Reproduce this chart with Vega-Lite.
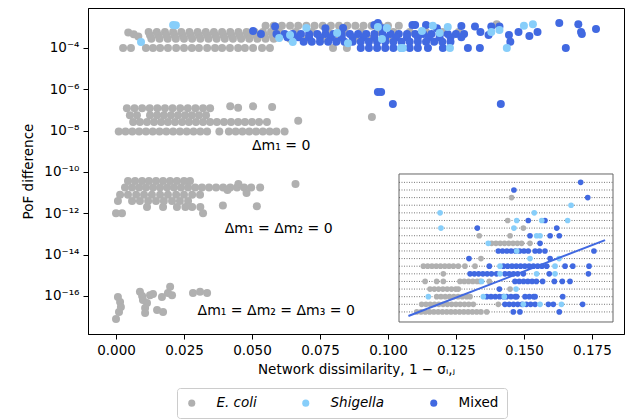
{
"$schema": "https://vega.github.io/schema/vega-lite/v6.json",
"width": 536, "height": 326,
"autosize": {"type": "none"},
"padding": {"left": 88, "top": 8, "right": 1, "bottom": 85},
"config": {"font": "DejaVu Sans", "view": {"stroke": "black", "strokeWidth": 1},
 "axis": {"grid": false, "domainColor": "black", "tickColor": "black", "labelColor": "black", "titleColor": "black", "labelFontSize": 13.5, "titleFontSize": 13.5, "titleFontWeight": "normal", "tickSize": 5, "labelPadding": 4}},
"datasets": {
"main": [
{"x":0.0045,"y":5.6e-4,"g":"E. coli"},{"x":0.0065,"y":4.6e-4,"g":"E. coli"},{"x":0.0082,"y":3.6e-4,"g":"E. coli"},{"x":0.0026,"y":1e-4,"g":"E. coli"},{"x":0.0055,"y":1e-4,"g":"E. coli"},
{"x":0.012,"y":6e-4,"g":"E. coli"},{"x":0.015,"y":6e-4,"g":"E. coli"},{"x":0.018,"y":6e-4,"g":"E. coli"},{"x":0.021,"y":6e-4,"g":"E. coli"},{"x":0.024,"y":6e-4,"g":"E. coli"},{"x":0.027,"y":6e-4,"g":"E. coli"},{"x":0.030,"y":6e-4,"g":"E. coli"},{"x":0.033,"y":6e-4,"g":"E. coli"},{"x":0.036,"y":6e-4,"g":"E. coli"},{"x":0.039,"y":6e-4,"g":"E. coli"},{"x":0.042,"y":6e-4,"g":"E. coli"},{"x":0.045,"y":6e-4,"g":"E. coli"},{"x":0.048,"y":6e-4,"g":"E. coli"},{"x":0.051,"y":6e-4,"g":"E. coli"},{"x":0.054,"y":6e-4,"g":"E. coli"},{"x":0.057,"y":6e-4,"g":"E. coli"},{"x":0.060,"y":6e-4,"g":"E. coli"},{"x":0.066,"y":6e-4,"g":"E. coli"},{"x":0.072,"y":6e-4,"g":"E. coli"},{"x":0.078,"y":6e-4,"g":"E. coli"},{"x":0.084,"y":6e-4,"g":"E. coli"},{"x":0.090,"y":6e-4,"g":"E. coli"},{"x":0.096,"y":6e-4,"g":"E. coli"},{"x":0.102,"y":6e-4,"g":"E. coli"},{"x":0.108,"y":6e-4,"g":"E. coli"},{"x":0.114,"y":6e-4,"g":"E. coli"},{"x":0.120,"y":6e-4,"g":"E. coli"},{"x":0.126,"y":6e-4,"g":"E. coli"},
{"x":0.0125,"y":4.1e-4,"g":"E. coli"},{"x":0.0155,"y":4.1e-4,"g":"E. coli"},{"x":0.0185,"y":4.1e-4,"g":"E. coli"},{"x":0.0215,"y":4.1e-4,"g":"E. coli"},{"x":0.0245,"y":4.1e-4,"g":"E. coli"},{"x":0.0275,"y":4.1e-4,"g":"E. coli"},{"x":0.0305,"y":4.1e-4,"g":"E. coli"},{"x":0.0335,"y":4.1e-4,"g":"E. coli"},{"x":0.0365,"y":4.1e-4,"g":"E. coli"},{"x":0.0395,"y":4.1e-4,"g":"E. coli"},{"x":0.0425,"y":4.1e-4,"g":"E. coli"},{"x":0.0455,"y":4.1e-4,"g":"E. coli"},{"x":0.0485,"y":4.1e-4,"g":"E. coli"},{"x":0.0515,"y":4.1e-4,"g":"E. coli"},{"x":0.0545,"y":4.1e-4,"g":"E. coli"},{"x":0.0575,"y":4.1e-4,"g":"E. coli"},
{"x":0.013,"y":2.8e-4,"g":"E. coli"},{"x":0.016,"y":2.8e-4,"g":"E. coli"},{"x":0.019,"y":2.8e-4,"g":"E. coli"},{"x":0.022,"y":2.8e-4,"g":"E. coli"},{"x":0.025,"y":2.8e-4,"g":"E. coli"},{"x":0.028,"y":2.8e-4,"g":"E. coli"},{"x":0.031,"y":2.8e-4,"g":"E. coli"},{"x":0.034,"y":2.8e-4,"g":"E. coli"},{"x":0.037,"y":2.8e-4,"g":"E. coli"},{"x":0.040,"y":2.8e-4,"g":"E. coli"},{"x":0.043,"y":2.8e-4,"g":"E. coli"},{"x":0.046,"y":2.8e-4,"g":"E. coli"},{"x":0.049,"y":2.8e-4,"g":"E. coli"},{"x":0.052,"y":2.8e-4,"g":"E. coli"},{"x":0.055,"y":2.8e-4,"g":"E. coli"},{"x":0.058,"y":2.8e-4,"g":"E. coli"},{"x":0.064,"y":2.8e-4,"g":"E. coli"},{"x":0.070,"y":2.8e-4,"g":"E. coli"},{"x":0.076,"y":2.8e-4,"g":"E. coli"},{"x":0.082,"y":2.8e-4,"g":"E. coli"},{"x":0.088,"y":2.8e-4,"g":"E. coli"},{"x":0.094,"y":2.8e-4,"g":"E. coli"},{"x":0.100,"y":2.8e-4,"g":"E. coli"},
{"x":0.011,"y":1e-4,"g":"E. coli"},{"x":0.0136,"y":1e-4,"g":"E. coli"},{"x":0.0162,"y":1e-4,"g":"E. coli"},{"x":0.0191,"y":1e-4,"g":"E. coli"},{"x":0.0221,"y":1e-4,"g":"E. coli"},{"x":0.025,"y":1e-4,"g":"E. coli"},{"x":0.0279,"y":1e-4,"g":"E. coli"},{"x":0.0305,"y":1e-4,"g":"E. coli"},{"x":0.0335,"y":1e-4,"g":"E. coli"},{"x":0.0364,"y":1e-4,"g":"E. coli"},{"x":0.039,"y":1e-4,"g":"E. coli"},{"x":0.0419,"y":1e-4,"g":"E. coli"},{"x":0.0449,"y":1e-4,"g":"E. coli"},{"x":0.0474,"y":1e-4,"g":"E. coli"},{"x":0.0504,"y":1e-4,"g":"E. coli"},{"x":0.0537,"y":1e-4,"g":"E. coli"},{"x":0.0566,"y":1e-4,"g":"E. coli"},{"x":0.0798,"y":1e-4,"g":"E. coli"},{"x":0.0849,"y":1e-4,"g":"E. coli"},
{"x":0.055,"y":1.2e-3,"g":"E. coli"},{"x":0.058,"y":1.2e-3,"g":"E. coli"},{"x":0.061,"y":1.2e-3,"g":"E. coli"},{"x":0.064,"y":1.2e-3,"g":"E. coli"},{"x":0.067,"y":1.2e-3,"g":"E. coli"},{"x":0.070,"y":1.2e-3,"g":"E. coli"},{"x":0.073,"y":1.2e-3,"g":"E. coli"},{"x":0.076,"y":1.2e-3,"g":"E. coli"},{"x":0.079,"y":1.2e-3,"g":"E. coli"},{"x":0.082,"y":1.2e-3,"g":"E. coli"},{"x":0.085,"y":1.2e-3,"g":"E. coli"},{"x":0.088,"y":1.2e-3,"g":"E. coli"},{"x":0.091,"y":1.2e-3,"g":"E. coli"},{"x":0.094,"y":1.2e-3,"g":"E. coli"},{"x":0.097,"y":1.2e-3,"g":"E. coli"},{"x":0.100,"y":1.2e-3,"g":"E. coli"},{"x":0.104,"y":1.2e-3,"g":"E. coli"},{"x":0.140,"y":1.4e-3,"g":"E. coli"},
{"x":0.001,"y":9e-9,"g":"E. coli"},{"x":0.0035,"y":9e-9,"g":"E. coli"},{"x":0.006,"y":9e-9,"g":"E. coli"},{"x":0.0085,"y":9e-9,"g":"E. coli"},{"x":0.011,"y":9e-9,"g":"E. coli"},{"x":0.0135,"y":9e-9,"g":"E. coli"},{"x":0.016,"y":9e-9,"g":"E. coli"},{"x":0.0185,"y":9e-9,"g":"E. coli"},{"x":0.021,"y":9e-9,"g":"E. coli"},{"x":0.0235,"y":9e-9,"g":"E. coli"},{"x":0.026,"y":9e-9,"g":"E. coli"},{"x":0.0285,"y":9e-9,"g":"E. coli"},{"x":0.031,"y":9e-9,"g":"E. coli"},{"x":0.0335,"y":9e-9,"g":"E. coli"},{"x":0.038,"y":9e-9,"g":"E. coli"},{"x":0.0415,"y":9e-9,"g":"E. coli"},{"x":0.044,"y":9e-9,"g":"E. coli"},{"x":0.0465,"y":9e-9,"g":"E. coli"},{"x":0.049,"y":9e-9,"g":"E. coli"},{"x":0.0515,"y":9e-9,"g":"E. coli"},{"x":0.054,"y":9e-9,"g":"E. coli"},{"x":0.0565,"y":9e-9,"g":"E. coli"},{"x":0.059,"y":9e-9,"g":"E. coli"},{"x":0.062,"y":9e-9,"g":"E. coli"},
{"x":0.0051,"y":5.5e-8,"g":"E. coli"},{"x":0.0077,"y":5.5e-8,"g":"E. coli"},{"x":0.0125,"y":5.5e-8,"g":"E. coli"},{"x":0.0151,"y":5.5e-8,"g":"E. coli"},{"x":0.0176,"y":5.5e-8,"g":"E. coli"},{"x":0.0202,"y":5.5e-8,"g":"E. coli"},{"x":0.0228,"y":5.5e-8,"g":"E. coli"},{"x":0.0254,"y":5.5e-8,"g":"E. coli"},{"x":0.0279,"y":5.5e-8,"g":"E. coli"},{"x":0.0305,"y":5.5e-8,"g":"E. coli"},{"x":0.0331,"y":5.5e-8,"g":"E. coli"},
{"x":0.0063,"y":2.6e-8,"g":"E. coli"},{"x":0.0088,"y":2.6e-8,"g":"E. coli"},{"x":0.0114,"y":2.6e-8,"g":"E. coli"},{"x":0.014,"y":2.6e-8,"g":"E. coli"},{"x":0.0166,"y":2.6e-8,"g":"E. coli"},{"x":0.0191,"y":2.6e-8,"g":"E. coli"},{"x":0.0217,"y":2.6e-8,"g":"E. coli"},{"x":0.0243,"y":2.6e-8,"g":"E. coli"},{"x":0.0268,"y":2.6e-8,"g":"E. coli"},{"x":0.0294,"y":2.6e-8,"g":"E. coli"},{"x":0.032,"y":2.6e-8,"g":"E. coli"},{"x":0.0346,"y":2.6e-8,"g":"E. coli"},{"x":0.0371,"y":2.6e-8,"g":"E. coli"},{"x":0.0397,"y":2.6e-8,"g":"E. coli"},{"x":0.0423,"y":2.6e-8,"g":"E. coli"},{"x":0.0449,"y":2.6e-8,"g":"E. coli"},{"x":0.0474,"y":2.6e-8,"g":"E. coli"},{"x":0.05,"y":2.6e-8,"g":"E. coli"},{"x":0.0526,"y":2.6e-8,"g":"E. coli"},{"x":0.0555,"y":2.6e-8,"g":"E. coli"},
{"x":0.004,"y":1.2e-7,"g":"E. coli"},{"x":0.0068,"y":1.2e-7,"g":"E. coli"},{"x":0.0096,"y":1.2e-7,"g":"E. coli"},{"x":0.0124,"y":1.2e-7,"g":"E. coli"},{"x":0.0152,"y":1.2e-7,"g":"E. coli"},{"x":0.018,"y":1.2e-7,"g":"E. coli"},{"x":0.0208,"y":1.2e-7,"g":"E. coli"},{"x":0.0236,"y":1.2e-7,"g":"E. coli"},{"x":0.0264,"y":1.2e-7,"g":"E. coli"},{"x":0.0292,"y":1.2e-7,"g":"E. coli"},{"x":0.032,"y":1.2e-7,"g":"E. coli"},{"x":0.0346,"y":1.2e-7,"g":"E. coli"},{"x":0.042,"y":1.5e-7,"g":"E. coli"},{"x":0.0449,"y":1.3e-7,"g":"E. coli"},{"x":0.0504,"y":1.5e-7,"g":"E. coli"},{"x":0.0574,"y":1.4e-7,"g":"E. coli"},
{"x":0.067,"y":3e-8,"g":"E. coli"},{"x":0.0941,"y":4.6e-8,"g":"E. coli"},
{"x":0.0044,"y":3.7e-11,"g":"E. coli"},{"x":0.007,"y":3.7e-11,"g":"E. coli"},{"x":0.0096,"y":3.7e-11,"g":"E. coli"},{"x":0.0121,"y":3.7e-11,"g":"E. coli"},{"x":0.0147,"y":3.7e-11,"g":"E. coli"},{"x":0.0173,"y":3.7e-11,"g":"E. coli"},{"x":0.0199,"y":3.7e-11,"g":"E. coli"},{"x":0.0224,"y":3.7e-11,"g":"E. coli"},{"x":0.025,"y":3.7e-11,"g":"E. coli"},{"x":0.0272,"y":3.7e-11,"g":"E. coli"},
{"x":0.0033,"y":1.8e-11,"g":"E. coli"},{"x":0.0059,"y":1.8e-11,"g":"E. coli"},{"x":0.0085,"y":1.8e-11,"g":"E. coli"},{"x":0.011,"y":1.8e-11,"g":"E. coli"},{"x":0.0136,"y":1.8e-11,"g":"E. coli"},{"x":0.0162,"y":1.8e-11,"g":"E. coli"},{"x":0.0188,"y":1.8e-11,"g":"E. coli"},{"x":0.0213,"y":1.8e-11,"g":"E. coli"},{"x":0.0239,"y":1.8e-11,"g":"E. coli"},{"x":0.0265,"y":1.8e-11,"g":"E. coli"},{"x":0.0291,"y":1.8e-11,"g":"E. coli"},{"x":0.0316,"y":1.8e-11,"g":"E. coli"},{"x":0.0342,"y":1.8e-11,"g":"E. coli"},{"x":0.0368,"y":1.8e-11,"g":"E. coli"},{"x":0.0394,"y":1.8e-11,"g":"E. coli"},{"x":0.042,"y":1.8e-11,"g":"E. coli"},{"x":0.0445,"y":1.8e-11,"g":"E. coli"},{"x":0.0471,"y":1.8e-11,"g":"E. coli"},{"x":0.0497,"y":1.8e-11,"g":"E. coli"},{"x":0.053,"y":1.8e-11,"g":"E. coli"},
{"x":0.0015,"y":8e-12,"g":"E. coli"},{"x":0.0044,"y":8e-12,"g":"E. coli"},{"x":0.0074,"y":8e-12,"g":"E. coli"},{"x":0.0103,"y":8e-12,"g":"E. coli"},{"x":0.0132,"y":8e-12,"g":"E. coli"},{"x":0.0162,"y":8e-12,"g":"E. coli"},{"x":0.0191,"y":8e-12,"g":"E. coli"},{"x":0.0221,"y":8e-12,"g":"E. coli"},{"x":0.025,"y":8e-12,"g":"E. coli"},{"x":0.028,"y":8e-12,"g":"E. coli"},{"x":0.0309,"y":8e-12,"g":"E. coli"},
{"x":0.0007,"y":4e-12,"g":"E. coli"},{"x":0.0059,"y":4e-12,"g":"E. coli"},{"x":0.0088,"y":4e-12,"g":"E. coli"},{"x":0.0118,"y":4e-12,"g":"E. coli"},{"x":0.0147,"y":4e-12,"g":"E. coli"},{"x":0.0176,"y":4e-12,"g":"E. coli"},{"x":0.0206,"y":4e-12,"g":"E. coli"},{"x":0.0235,"y":4e-12,"g":"E. coli"},{"x":0.0265,"y":4e-12,"g":"E. coli"},
{"x":0.0114,"y":2e-12,"g":"E. coli"},{"x":0.0173,"y":2e-12,"g":"E. coli"},{"x":0.0224,"y":2e-12,"g":"E. coli"},{"x":0.0255,"y":2e-12,"g":"E. coli"},{"x":0.028,"y":2e-12,"g":"E. coli"},{"x":0.031,"y":2e-12,"g":"E. coli"},{"x":0.0,"y":1e-12,"g":"E. coli"},{"x":0.0022,"y":1e-12,"g":"E. coli"},{"x":0.032,"y":1e-12,"g":"E. coli"},{"x":0.0393,"y":2.4e-12,"g":"E. coli"},{"x":0.0518,"y":2.2e-12,"g":"E. coli"},
{"x":0.048,"y":9.5e-12,"g":"E. coli"},{"x":0.045,"y":2.6e-11,"g":"E. coli"},{"x":0.041,"y":1.35e-11,"g":"E. coli"},{"x":0.066,"y":2.6e-11,"g":"E. coli"},
{"x":0.0007,"y":8.9e-17,"g":"E. coli"},{"x":0.0015,"y":5.1e-17,"g":"E. coli"},{"x":0.0018,"y":2.9e-17,"g":"E. coli"},{"x":0.0011,"y":1.7e-17,"g":"E. coli"},{"x":0.0,"y":7.8e-18,"g":"E. coli"},{"x":0.0088,"y":1.6e-16,"g":"E. coli"},{"x":0.0096,"y":1e-16,"g":"E. coli"},{"x":0.0099,"y":6.4e-17,"g":"E. coli"},{"x":0.0114,"y":4.6e-17,"g":"E. coli"},{"x":0.0125,"y":1.1e-16,"g":"E. coli"},{"x":0.0136,"y":1.25e-16,"g":"E. coli"},{"x":0.0107,"y":2.6e-17,"g":"E. coli"},{"x":0.0107,"y":1.5e-17,"g":"E. coli"},{"x":0.0151,"y":2.1e-17,"g":"E. coli"},{"x":0.0173,"y":1.7e-17,"g":"E. coli"},{"x":0.0169,"y":8.9e-17,"g":"E. coli"},{"x":0.0191,"y":1.4e-16,"g":"E. coli"},{"x":0.0199,"y":2.8e-16,"g":"E. coli"},{"x":0.0206,"y":1.1e-16,"g":"E. coli"},{"x":0.0283,"y":1.4e-16,"g":"E. coli"},{"x":0.0309,"y":1.6e-16,"g":"E. coli"},{"x":0.0335,"y":1.4e-16,"g":"E. coli"},
{"x":0.059,"y":4.8e-4,"g":"Mixed"},{"x":0.062,"y":4.8e-4,"g":"Mixed"},{"x":0.065,"y":4.8e-4,"g":"Mixed"},{"x":0.068,"y":4.8e-4,"g":"Mixed"},{"x":0.071,"y":4.8e-4,"g":"Mixed"},{"x":0.074,"y":4.8e-4,"g":"Mixed"},{"x":0.077,"y":4.8e-4,"g":"Mixed"},{"x":0.080,"y":4.8e-4,"g":"Mixed"},{"x":0.083,"y":4.8e-4,"g":"Mixed"},{"x":0.086,"y":4.8e-4,"g":"Mixed"},{"x":0.089,"y":4.8e-4,"g":"Mixed"},{"x":0.092,"y":4.8e-4,"g":"Mixed"},{"x":0.095,"y":4.8e-4,"g":"Mixed"},{"x":0.098,"y":4.8e-4,"g":"Mixed"},{"x":0.101,"y":4.8e-4,"g":"Mixed"},{"x":0.104,"y":4.8e-4,"g":"Mixed"},{"x":0.107,"y":4.8e-4,"g":"Mixed"},{"x":0.110,"y":4.8e-4,"g":"Mixed"},{"x":0.113,"y":4.8e-4,"g":"Mixed"},{"x":0.116,"y":4.8e-4,"g":"Mixed"},{"x":0.119,"y":4.8e-4,"g":"Mixed"},{"x":0.122,"y":4.8e-4,"g":"Mixed"},{"x":0.125,"y":4.8e-4,"g":"Mixed"},{"x":0.128,"y":4.8e-4,"g":"Mixed"},
{"x":0.063,"y":3.3e-4,"g":"Mixed"},{"x":0.067,"y":3.3e-4,"g":"Mixed"},{"x":0.071,"y":3.3e-4,"g":"Mixed"},{"x":0.075,"y":3.3e-4,"g":"Mixed"},{"x":0.079,"y":3.3e-4,"g":"Mixed"},{"x":0.083,"y":3.3e-4,"g":"Mixed"},{"x":0.087,"y":3.3e-4,"g":"Mixed"},{"x":0.091,"y":3.3e-4,"g":"Mixed"},{"x":0.095,"y":3.3e-4,"g":"Mixed"},{"x":0.099,"y":3.3e-4,"g":"Mixed"},{"x":0.103,"y":3.3e-4,"g":"Mixed"},{"x":0.107,"y":3.3e-4,"g":"Mixed"},{"x":0.111,"y":3.3e-4,"g":"Mixed"},{"x":0.115,"y":3.3e-4,"g":"Mixed"},{"x":0.119,"y":3.3e-4,"g":"Mixed"},{"x":0.123,"y":3.3e-4,"g":"Mixed"},{"x":0.127,"y":3.3e-4,"g":"Mixed"},
{"x":0.069,"y":2e-4,"g":"Mixed"},{"x":0.072,"y":2e-4,"g":"Mixed"},{"x":0.075,"y":2e-4,"g":"Mixed"},{"x":0.078,"y":2e-4,"g":"Mixed"},{"x":0.081,"y":2e-4,"g":"Mixed"},{"x":0.084,"y":2e-4,"g":"Mixed"},{"x":0.087,"y":2e-4,"g":"Mixed"},{"x":0.090,"y":2e-4,"g":"Mixed"},{"x":0.093,"y":2e-4,"g":"Mixed"},{"x":0.096,"y":2e-4,"g":"Mixed"},{"x":0.099,"y":2e-4,"g":"Mixed"},{"x":0.102,"y":2e-4,"g":"Mixed"},{"x":0.105,"y":2e-4,"g":"Mixed"},{"x":0.108,"y":2e-4,"g":"Mixed"},{"x":0.111,"y":2e-4,"g":"Mixed"},{"x":0.114,"y":2e-4,"g":"Mixed"},{"x":0.117,"y":2e-4,"g":"Mixed"},{"x":0.120,"y":2e-4,"g":"Mixed"},{"x":0.123,"y":2e-4,"g":"Mixed"},
{"x":0.090,"y":1e-4,"g":"Mixed"},{"x":0.093,"y":1e-4,"g":"Mixed"},{"x":0.096,"y":1e-4,"g":"Mixed"},{"x":0.099,"y":1e-4,"g":"Mixed"},{"x":0.102,"y":1e-4,"g":"Mixed"},{"x":0.105,"y":1e-4,"g":"Mixed"},{"x":0.108,"y":1e-4,"g":"Mixed"},{"x":0.111,"y":1e-4,"g":"Mixed"},{"x":0.1147,"y":1e-4,"g":"Mixed"},{"x":0.1202,"y":1e-4,"g":"Mixed"},{"x":0.1294,"y":1e-4,"g":"Mixed"},{"x":0.1338,"y":1e-4,"g":"Mixed"},{"x":0.1654,"y":1e-4,"g":"Mixed"},
{"x":0.0504,"y":6.6e-4,"g":"Mixed"},{"x":0.0533,"y":4.7e-4,"g":"Mixed"},{"x":0.0585,"y":1.1e-3,"g":"Mixed"},{"x":0.077,"y":9e-4,"g":"Mixed"},{"x":0.0835,"y":9.3e-4,"g":"Mixed"},{"x":0.095,"y":1.3e-3,"g":"Mixed"},{"x":0.0963,"y":1.6e-3,"g":"Mixed"},{"x":0.098,"y":9e-4,"g":"Mixed"},{"x":0.109,"y":1.3e-3,"g":"Mixed"},{"x":0.11,"y":1.3e-3,"g":"Mixed"},{"x":0.114,"y":1.3e-3,"g":"Mixed"},{"x":0.118,"y":9e-4,"g":"Mixed"},{"x":0.127,"y":1.15e-3,"g":"Mixed"},{"x":0.132,"y":1.1e-3,"g":"Mixed"},{"x":0.138,"y":1.1e-3,"g":"Mixed"},{"x":0.141,"y":1.1e-3,"g":"Mixed"},{"x":0.134,"y":6e-4,"g":"Mixed"},{"x":0.137,"y":4.3e-4,"g":"Mixed"},{"x":0.1445,"y":4.3e-4,"g":"Mixed"},{"x":0.145,"y":2e-4,"g":"Mixed"},{"x":0.148,"y":6e-4,"g":"Mixed"},{"x":0.152,"y":3.8e-4,"g":"Mixed"},{"x":0.155,"y":6e-4,"g":"Mixed"},{"x":0.163,"y":1.6e-3,"g":"Mixed"},{"x":0.170,"y":1.4e-3,"g":"Mixed"},{"x":0.171,"y":6e-4,"g":"Mixed"},{"x":0.1713,"y":4.8e-4,"g":"Mixed"},{"x":0.1765,"y":8.3e-4,"g":"Mixed"},
{"x":0.0963,"y":7.4e-7,"g":"Mixed"},{"x":0.0975,"y":7.4e-7,"g":"Mixed"},{"x":0.1018,"y":1.95e-7,"g":"Mixed"},{"x":0.1415,"y":1.95e-7,"g":"Mixed"},
{"x":0.021,"y":1.3e-3,"g":"Shigella"},{"x":0.022,"y":1.25e-3,"g":"Shigella"},{"x":0.0092,"y":1.95e-4,"g":"Shigella"},{"x":0.060,"y":3e-4,"g":"Shigella"},{"x":0.065,"y":1.95e-4,"g":"Shigella"},{"x":0.070,"y":9.3e-4,"g":"Shigella"},{"x":0.064,"y":4.3e-4,"g":"Shigella"},{"x":0.0813,"y":5.3e-4,"g":"Shigella"},{"x":0.0853,"y":1.7e-4,"g":"Shigella"},{"x":0.0963,"y":1.05e-3,"g":"Shigella"},{"x":0.0996,"y":9.3e-4,"g":"Shigella"},{"x":0.0978,"y":2.7e-4,"g":"Shigella"},{"x":0.1048,"y":1e-4,"g":"Shigella"},{"x":0.1055,"y":1e-4,"g":"Shigella"},{"x":0.1125,"y":6.6e-4,"g":"Shigella"},{"x":0.1165,"y":1.2e-3,"g":"Shigella"},{"x":0.119,"y":5.3e-4,"g":"Shigella"},{"x":0.122,"y":1.05e-3,"g":"Shigella"},{"x":0.1228,"y":1e-4,"g":"Shigella"},{"x":0.138,"y":6e-4,"g":"Shigella"},{"x":0.141,"y":7.4e-4,"g":"Shigella"},{"x":0.1437,"y":1e-4,"g":"Shigella"},{"x":0.150,"y":1.2e-3,"g":"Shigella"},{"x":0.1533,"y":1.4e-3,"g":"Shigella"}
],
"notes": [
{"x":0.050,"y":1.8e-9,"t":"Δm₁ = 0"},
{"x":0.040,"y":1.74e-13,"t":"Δm₁ = Δm₂ = 0"},
{"x":0.030,"y":1.9e-17,"t":"Δm₁ = Δm₂ = Δm₃ = 0"}
],
"frame": [{"u0":0,"u1":100,"r0":-0.32,"r1":19.1}],
"rows": [
{"r":1,"u0":0,"u1":100},{"r":2,"u0":0,"u1":100},{"r":3,"u0":0,"u1":100},{"r":4,"u0":0,"u1":100},{"r":5,"u0":0,"u1":100},{"r":6,"u0":0,"u1":100},{"r":7,"u0":0,"u1":100},{"r":8,"u0":0,"u1":100},{"r":9,"u0":0,"u1":100},{"r":10,"u0":0,"u1":100},{"r":11,"u0":0,"u1":100},{"r":12,"u0":0,"u1":100},{"r":13,"u0":0,"u1":100},{"r":14,"u0":0,"u1":100},{"r":15,"u0":0,"u1":100},{"r":16,"u0":0,"u1":100},{"r":17,"u0":0,"u1":100},{"r":18,"u0":0,"u1":100}
],
"inset": [
{"u":52.6,"r":16,"g":"E. coli"},{"u":50.8,"r":13,"g":"E. coli"},{"u":58.1,"r":12,"g":"E. coli"},{"u":37.5,"r":11,"g":"E. coli"},{"u":51.9,"r":11,"g":"E. coli"},
{"u":43.3,"r":10,"g":"E. coli"},{"u":45.3,"r":10,"g":"E. coli"},{"u":47.3,"r":10,"g":"E. coli"},{"u":49.3,"r":10,"g":"E. coli"},{"u":51.3,"r":10,"g":"E. coli"},{"u":53.3,"r":10,"g":"E. coli"},{"u":55.3,"r":10,"g":"E. coli"},{"u":57.3,"r":10,"g":"E. coli"},{"u":61.2,"r":10,"g":"E. coli"},
{"u":38.3,"r":8,"g":"E. coli"},
{"u":11.4,"r":7,"g":"E. coli"},{"u":13.4,"r":7,"g":"E. coli"},{"u":15.4,"r":7,"g":"E. coli"},{"u":17.4,"r":7,"g":"E. coli"},{"u":19.4,"r":7,"g":"E. coli"},{"u":21.4,"r":7,"g":"E. coli"},{"u":23.4,"r":7,"g":"E. coli"},{"u":25.4,"r":7,"g":"E. coli"},{"u":27.7,"r":7,"g":"E. coli"},{"u":30.8,"r":7,"g":"E. coli"},{"u":35.5,"r":7,"g":"E. coli"},
{"u":20.7,"r":6,"g":"E. coli"},
{"u":12.2,"r":5,"g":"E. coli"},{"u":17.6,"r":5,"g":"E. coli"},{"u":20.7,"r":5,"g":"E. coli"},{"u":28.5,"r":5,"g":"E. coli"},{"u":30.5,"r":5,"g":"E. coli"},{"u":32.5,"r":5,"g":"E. coli"},{"u":34.5,"r":5,"g":"E. coli"},{"u":36.5,"r":5,"g":"E. coli"},{"u":37.9,"r":5,"g":"E. coli"},{"u":42.2,"r":5,"g":"E. coli"},
{"u":14.5,"r":4,"g":"E. coli"},{"u":16.5,"r":4,"g":"E. coli"},{"u":18.5,"r":4,"g":"E. coli"},{"u":20.5,"r":4,"g":"E. coli"},{"u":22.5,"r":4,"g":"E. coli"},{"u":24.5,"r":4,"g":"E. coli"},{"u":26.5,"r":4,"g":"E. coli"},{"u":27.7,"r":4,"g":"E. coli"},{"u":51.9,"r":4,"g":"E. coli"},
{"u":17.6,"r":3,"g":"E. coli"},{"u":19.6,"r":3,"g":"E. coli"},{"u":21.6,"r":3,"g":"E. coli"},{"u":23.6,"r":3,"g":"E. coli"},{"u":25.6,"r":3,"g":"E. coli"},{"u":27.6,"r":3,"g":"E. coli"},{"u":29.6,"r":3,"g":"E. coli"},{"u":31.6,"r":3,"g":"E. coli"},{"u":33.2,"r":3,"g":"E. coli"},
{"u":10.6,"r":2,"g":"E. coli"},{"u":12.6,"r":2,"g":"E. coli"},{"u":14.6,"r":2,"g":"E. coli"},{"u":16.6,"r":2,"g":"E. coli"},{"u":18.6,"r":2,"g":"E. coli"},{"u":20.6,"r":2,"g":"E. coli"},{"u":22.6,"r":2,"g":"E. coli"},{"u":24.6,"r":2,"g":"E. coli"},{"u":26.6,"r":2,"g":"E. coli"},{"u":28.6,"r":2,"g":"E. coli"},{"u":30.6,"r":2,"g":"E. coli"},{"u":32.6,"r":2,"g":"E. coli"},{"u":34.7,"r":2,"g":"E. coli"},{"u":46.4,"r":2,"g":"E. coli"},
{"u":8.3,"r":1,"g":"E. coli"},{"u":10.3,"r":1,"g":"E. coli"},{"u":12.3,"r":1,"g":"E. coli"},{"u":14.3,"r":1,"g":"E. coli"},{"u":16.3,"r":1,"g":"E. coli"},{"u":18.3,"r":1,"g":"E. coli"},{"u":20.3,"r":1,"g":"E. coli"},{"u":22.3,"r":1,"g":"E. coli"},{"u":24.3,"r":1,"g":"E. coli"},{"u":26.3,"r":1,"g":"E. coli"},{"u":28.3,"r":1,"g":"E. coli"},{"u":30.3,"r":1,"g":"E. coli"},{"u":32.3,"r":1,"g":"E. coli"},{"u":34.3,"r":1,"g":"E. coli"},{"u":36.3,"r":1,"g":"E. coli"},{"u":38.3,"r":1,"g":"E. coli"},{"u":41,"r":1,"g":"E. coli"},
{"u":84.9,"r":18,"g":"Mixed"},{"u":53.7,"r":17,"g":"Mixed"},{"u":88.2,"r":16,"g":"Mixed"},{"u":60.4,"r":13,"g":"Mixed"},{"u":68.2,"r":13,"g":"Mixed"},{"u":36.6,"r":12,"g":"Mixed"},{"u":73.7,"r":12,"g":"Mixed"},{"u":61.2,"r":11,"g":"Mixed"},{"u":70.6,"r":11,"g":"Mixed"},{"u":74.9,"r":11,"g":"Mixed"},{"u":65.9,"r":10,"g":"Mixed"},
{"u":46.4,"r":9,"g":"Mixed"},{"u":48.4,"r":9,"g":"Mixed"},{"u":50.4,"r":9,"g":"Mixed"},{"u":52.4,"r":9,"g":"Mixed"},{"u":54.4,"r":9,"g":"Mixed"},{"u":56.4,"r":9,"g":"Mixed"},{"u":58.4,"r":9,"g":"Mixed"},{"u":60.4,"r":9,"g":"Mixed"},{"u":63.6,"r":9,"g":"Mixed"},{"u":65.6,"r":9,"g":"Mixed"},{"u":68.2,"r":9,"g":"Mixed"},{"u":91.1,"r":9,"g":"Mixed"},
{"u":32.7,"r":8,"g":"Mixed"},{"u":70.6,"r":8,"g":"Mixed"},
{"u":42.2,"r":7,"g":"Mixed"},{"u":48.8,"r":7,"g":"Mixed"},{"u":50.8,"r":7,"g":"Mixed"},{"u":52.8,"r":7,"g":"Mixed"},{"u":54.8,"r":7,"g":"Mixed"},{"u":56.8,"r":7,"g":"Mixed"},{"u":58.8,"r":7,"g":"Mixed"},{"u":60.8,"r":7,"g":"Mixed"},{"u":62.8,"r":7,"g":"Mixed"},{"u":64.8,"r":7,"g":"Mixed"},{"u":66.8,"r":7,"g":"Mixed"},{"u":69,"r":7,"g":"Mixed"},{"u":77.6,"r":7,"g":"Mixed"},{"u":81.2,"r":7,"g":"Mixed"},{"u":88.8,"r":7,"g":"Mixed"},
{"u":33.2,"r":6,"g":"Mixed"},{"u":35.2,"r":6,"g":"Mixed"},{"u":37.2,"r":6,"g":"Mixed"},{"u":39.2,"r":6,"g":"Mixed"},{"u":41.2,"r":6,"g":"Mixed"},{"u":43.2,"r":6,"g":"Mixed"},{"u":45.6,"r":6,"g":"Mixed"},{"u":49.5,"r":6,"g":"Mixed"},{"u":51.5,"r":6,"g":"Mixed"},{"u":53.5,"r":6,"g":"Mixed"},{"u":55.5,"r":6,"g":"Mixed"},{"u":58.1,"r":6,"g":"Mixed"},{"u":70.2,"r":6,"g":"Mixed"},{"u":88.5,"r":6,"g":"Mixed"},
{"u":54.2,"r":5,"g":"Mixed"},{"u":56.2,"r":5,"g":"Mixed"},{"u":58.2,"r":5,"g":"Mixed"},{"u":60.2,"r":5,"g":"Mixed"},{"u":62.2,"r":5,"g":"Mixed"},{"u":64.2,"r":5,"g":"Mixed"},{"u":67.1,"r":5,"g":"Mixed"},{"u":72.6,"r":5,"g":"Mixed"},{"u":76.3,"r":5,"g":"Mixed"},{"u":79.9,"r":5,"g":"Mixed"},
{"u":46.9,"r":4,"g":"Mixed"},
{"u":41,"r":3,"g":"Mixed"},{"u":43,"r":3,"g":"Mixed"},{"u":45,"r":3,"g":"Mixed"},{"u":47,"r":3,"g":"Mixed"},{"u":48.8,"r":3,"g":"Mixed"},{"u":50.3,"r":3,"g":"Mixed"},{"u":52.3,"r":3,"g":"Mixed"},{"u":54.3,"r":3,"g":"Mixed"},{"u":55,"r":3,"g":"Mixed"},{"u":58.9,"r":3,"g":"Mixed"},{"u":60.9,"r":3,"g":"Mixed"},{"u":62.9,"r":3,"g":"Mixed"},{"u":63.6,"r":3,"g":"Mixed"},{"u":76.5,"r":3,"g":"Mixed"},
{"u":49.5,"r":2,"g":"Mixed"},{"u":51.5,"r":2,"g":"Mixed"},{"u":53.5,"r":2,"g":"Mixed"},{"u":55.5,"r":2,"g":"Mixed"},{"u":57.5,"r":2,"g":"Mixed"},{"u":59.5,"r":2,"g":"Mixed"},{"u":61.5,"r":2,"g":"Mixed"},{"u":63.6,"r":2,"g":"Mixed"},{"u":69.8,"r":2,"g":"Mixed"},{"u":72.1,"r":2,"g":"Mixed"},{"u":85.8,"r":2,"g":"Mixed"},
{"u":53.4,"r":1,"g":"Mixed"},{"u":56.5,"r":1,"g":"Mixed"},{"u":74.9,"r":1,"g":"Mixed"},
{"u":80.4,"r":15,"g":"Shigella"},{"u":19.2,"r":14,"g":"Shigella"},{"u":63.2,"r":14,"g":"Shigella"},{"u":55,"r":13,"g":"Shigella"},{"u":66.7,"r":13,"g":"Shigella"},{"u":78.8,"r":13,"g":"Shigella"},{"u":19.6,"r":12,"g":"Shigella"},{"u":53.7,"r":12,"g":"Shigella"},{"u":64.3,"r":11,"g":"Shigella"},{"u":65.9,"r":11,"g":"Shigella"},{"u":41.7,"r":10,"g":"Shigella"},{"u":55,"r":9,"g":"Shigella"},{"u":61.2,"r":8,"g":"Shigella"},{"u":74.8,"r":8,"g":"Shigella"},{"u":47.2,"r":7,"g":"Shigella"},{"u":72.9,"r":7,"g":"Shigella"},{"u":47.2,"r":6,"g":"Shigella"},{"u":64.3,"r":6,"g":"Shigella"},{"u":72.9,"r":6,"g":"Shigella"},{"u":38.6,"r":5,"g":"Shigella"},{"u":54.7,"r":4,"g":"Shigella"},{"u":13.7,"r":3,"g":"Shigella"},{"u":39.4,"r":3,"g":"Shigella"},{"u":49.2,"r":3,"g":"Shigella"},{"u":58.1,"r":2,"g":"Shigella"},{"u":65.9,"r":2,"g":"Shigella"},{"u":75.9,"r":2,"g":"Shigella"}
],
"fit": [{"u":4.4,"r":0.47},{"u":96.3,"r":10.43}]
},
"layer": [
{"layer": [
 {"data": {"name": "main"},
  "mark": {"type": "circle", "size": 64, "opacity": 1},
  "encoding": {
   "x": {"field": "x", "type": "quantitative", "scale": {"domain": [-0.0103, 0.1868], "nice": false, "zero": false},
    "axis": {"values": [0, 0.025, 0.05, 0.075, 0.1, 0.125, 0.15, 0.175], "format": ".3f", "titlePadding": 6},
    "title": "Network dissimilarity, 1 − σᵢ,ⱼ"},
   "y": {"field": "y", "type": "quantitative", "scale": {"type": "log", "domain": [1.45e-18, 8.6e-3], "nice": false},
    "axis": {"values": [1e-16, 1e-14, 1e-12, 1e-10, 1e-8, 1e-6, 1e-4], "titlePadding": 8,
     "labelExpr": "datum.value > 5e-5 ? '10⁻⁴' : datum.value > 5e-7 ? '10⁻⁶' : datum.value > 5e-9 ? '10⁻⁸' : datum.value > 5e-11 ? '10⁻¹⁰' : datum.value > 5e-13 ? '10⁻¹²' : datum.value > 5e-15 ? '10⁻¹⁴' : '10⁻¹⁶'"},
    "title": "PoF difference"},
   "color": {"field": "g", "type": "nominal",
    "scale": {"domain": ["E. coli", "Shigella", "Mixed"], "range": ["#b0b0b0", "#87cefa", "#4169e1"]},
    "legend": {"orient": "none", "legendX": 89, "legendY": 380, "direction": "horizontal", "title": null,
     "symbolType": "circle", "symbolSize": 50, "symbolStrokeWidth": 0, "symbolOpacity": 1,
     "labelFontSize": 13.5, "labelColor": "black", "labelOffset": 18, "columnPadding": 42, "padding": 8,
     "strokeColor": "#cccccc", "fillColor": "white", "cornerRadius": 3,
     "encode": {"labels": {"update": {"fontStyle": {"signal": "datum.label == 'Mixed' ? 'normal' : 'italic'"}}}}}}
  }},
 {"data": {"name": "notes"},
  "mark": {"type": "text", "align": "left", "baseline": "middle", "fontSize": 14, "color": "black"},
  "encoding": {
   "x": {"field": "x", "type": "quantitative", "scale": {"domain": [-0.0103, 0.1868], "nice": false, "zero": false}},
   "y": {"field": "y", "type": "quantitative", "scale": {"type": "log", "domain": [1.45e-18, 8.6e-3], "nice": false}},
   "text": {"field": "t"}
  }}
]},
{"layer": [
 {"data": {"name": "frame"},
  "mark": {"type": "rect", "fill": "white", "stroke": "#666666", "strokeWidth": 1},
  "encoding": {
   "x": {"field": "u0", "type": "quantitative", "scale": {"domain": [-145.33, 105.14], "nice": false, "zero": false}, "axis": null},
   "x2": {"field": "u1"},
   "y": {"field": "r0", "type": "quantitative", "scale": {"domain": [-1.896, 40.88], "nice": false, "zero": false}, "axis": null},
   "y2": {"field": "r1"}
  }},
 {"data": {"name": "rows"},
  "mark": {"type": "rule", "color": "#555555", "strokeWidth": 0.8, "strokeDash": [1, 1.5]},
  "encoding": {
   "x": {"field": "u0", "type": "quantitative", "scale": {"domain": [-145.33, 105.14], "nice": false, "zero": false}, "axis": null},
   "x2": {"field": "u1"},
   "y": {"field": "r", "type": "quantitative", "scale": {"domain": [-1.896, 40.88], "nice": false, "zero": false}, "axis": null}
  }},
 {"data": {"name": "inset"},
  "mark": {"type": "circle", "size": 32, "opacity": 1},
  "encoding": {
   "x": {"field": "u", "type": "quantitative", "scale": {"domain": [-145.33, 105.14], "nice": false, "zero": false}, "axis": null},
   "y": {"field": "r", "type": "quantitative", "scale": {"domain": [-1.896, 40.88], "nice": false, "zero": false}, "axis": null},
   "color": {"field": "g", "type": "nominal", "scale": {"domain": ["E. coli", "Shigella", "Mixed"], "range": ["#b0b0b0", "#87cefa", "#4169e1"]}}
  }},
 {"data": {"name": "fit"},
  "mark": {"type": "line", "color": "#4169e1", "strokeWidth": 2},
  "encoding": {
   "x": {"field": "u", "type": "quantitative", "scale": {"domain": [-145.33, 105.14], "nice": false, "zero": false}, "axis": null},
   "y": {"field": "r", "type": "quantitative", "scale": {"domain": [-1.896, 40.88], "nice": false, "zero": false}, "axis": null}
  }}
]}
],
"resolve": {"scale": {"x": "independent", "y": "independent"}}
}
